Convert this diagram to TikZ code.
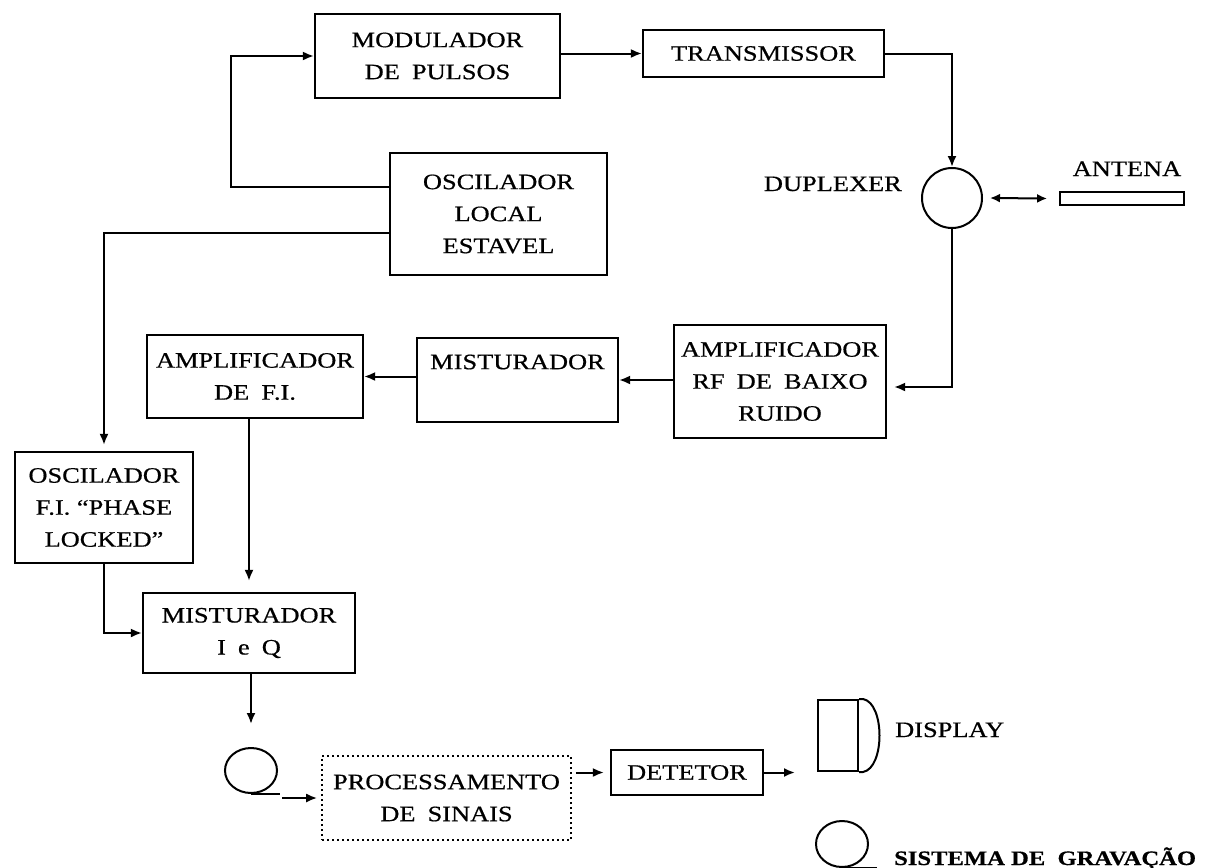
\documentclass[tikz,border=0pt]{standalone}
\usepackage{fontspec}
\setmainfont{Liberation Serif}[FakeStretch=1.2, FakeBold=0.6]
\usetikzlibrary{arrows.meta,shapes.geometric}
\newcommand{\wsp}{\hspace{0.55em}}
\begin{document}
\begin{tikzpicture}[x=1pt,y=-1pt,
  lbl/.style={font=\fontsize{22}{32}\selectfont, inner sep=0pt, align=center},
  blk/.style={lbl, draw, line width=2.2pt},
  con/.style={line width=2pt},
  arr/.style={con, -{Latex[length=11pt,width=9pt]}},
  dbl/.style={con, {Latex[length=10pt,width=9pt]}-{Latex[length=10pt,width=9pt]}},
]
\useasboundingbox (0,0) rectangle (1211,868);

% blocks
\node[blk, minimum width=245pt, minimum height=84pt] (mod) at (437.5,56) {MODULADOR\\DE\wsp PULSOS};
\node[blk, minimum width=241pt, minimum height=47pt] (trans) at (763.5,53.5) {TRANSMISSOR};
\node[blk, minimum width=217pt, minimum height=122pt] (osc) at (498.5,214) {OSCILADOR\\LOCAL\\ESTAVEL};
\node[blk, minimum width=201pt, minimum height=84pt] (mist) at (517.5,380) {};
\node[lbl] (misttxt) at (517.5,362) {MISTURADOR};
\node[blk, minimum width=212pt, minimum height=113pt] (amprf) at (780,381.5) {AMPLIFICADOR\\RF\wsp DE\wsp BAIXO\\RUIDO};
\node[blk, minimum width=216pt, minimum height=83pt] (ampfi) at (255,376.5) {AMPLIFICADOR\\DE\wsp F.I.};
\node[blk, minimum width=178pt, minimum height=111pt] (oscfi) at (104,507.5) {OSCILADOR\\F.I. “PHASE\\LOCKED”};
\node[blk, minimum width=212pt, minimum height=80pt] (iq) at (249,633) {MISTURADOR\\I\wsp e\wsp Q};
\node[blk, line width=1.6pt, dash pattern=on 1.6pt off 3.4pt, minimum width=249pt, minimum height=84pt] (proc) at (446.5,798) {PROCESSAMENTO\\DE\wsp SINAIS};
\node[blk, minimum width=152pt, minimum height=45pt] (det) at (687,772.5) {DETETOR};

% duplexer and antenna
\node[circle, draw, line width=2pt, minimum size=60pt, inner sep=0pt] (dup) at (952,198) {};
\node[rectangle, draw, line width=1.8pt, minimum width=124pt, minimum height=13pt, inner sep=0pt] (ant) at (1122,198.5) {};
\node[lbl, anchor=base east] (duplbl) at (902,191) {DUPLEXER};
\node[lbl, anchor=base] (antlbl) at (1127,176) {ANTENA};

% recording symbol (bottom middle)
\node[ellipse, draw, line width=2pt, minimum width=52pt, minimum height=45pt, inner sep=0pt] (rec) at (251,770.5) {};

% display symbol
\node[rectangle, draw, line width=2pt, minimum width=40pt, minimum height=71pt, inner sep=0pt] (disp) at (838,735.5) {};
\draw[con] (disp.north east) -- ++(4,0) .. controls +(22,4) and +(22,-4) .. ([xshift=4pt]disp.south east) -- (disp.south east);
\node[lbl, anchor=base west] (displbl) at (895,737) {DISPLAY};

% legend recording symbol
\node[ellipse, draw, line width=2pt, minimum width=52pt, minimum height=46pt, inner sep=0pt] (rec2) at (842,844) {};
\draw[con] (rec2.south) -- ++(35,0);
\node[lbl, anchor=base west, font=\fontsize{20.5}{32}\selectfont\bfseries] (gravlbl) at (894,865) {SISTEMA DE\hspace{0.3em} GRAVAÇÃO};

% connectors
\draw[arr] ([yshift=27pt]osc.west) -| ([xshift=-83pt]mod.west) -- (mod.west);
\draw[arr, shorten >=6pt] ([yshift=-19pt]osc.west) -| (oscfi.north);
\draw[arr] (mod.east |- trans.west) -- (trans.west);
\draw[arr] (trans.east) -| (dup.north);
\draw[dbl] ([xshift=7pt]dup.east) -- ([xshift=-12pt]ant.west);
\draw[arr] (dup.south) |- ([xshift=7pt,yshift=-5.5pt]amprf.east);
\draw[arr] (amprf.west |- mist.east) -- (mist.east);
\draw[arr] (mist.west |- ampfi.east) -- (ampfi.east);
\draw[arr] (ampfi.south -| iq.north) -- ([yshift=11pt]iq.north);
\draw[arr] (oscfi.south) |- (iq.west);
\draw[arr] (iq.south -| rec.north) -- ([yshift=23pt]rec.north);
\draw[con] (rec.south) -- ++(29,0);
\draw[arr] ([xshift=-39pt]proc.west) -- ([xshift=-4pt]proc.west);
\draw[arr] ([xshift=4pt]proc.east |- det.west) -- ([xshift=-6pt]det.west);
\coordinate (dispin) at (795,771);
\draw[arr] (det.east) -- (det.east -| dispin);
\end{tikzpicture}
\end{document}
